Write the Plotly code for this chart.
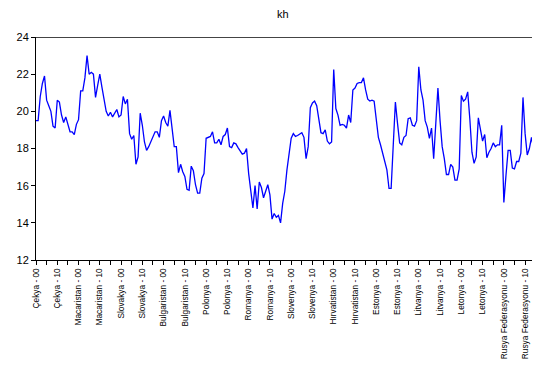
import plotly.graph_objects as go

countries = ["Çekya", "Macaristan", "Slovakya", "Bulgaristan", "Polonya", "Romanya",
             "Slovenya", "Hırvatistan", "Estonya", "Litvanya", "Letonya", "Rusya Federasyonu"]
years = ["%02d" % y for y in range(20)]

kh = [
    # Çekya
    19.5, 19.5, 20.8, 21.5, 21.9, 20.6, 20.3, 20.0, 19.2, 19.1,
    20.6, 20.5, 19.8, 19.4, 19.7, 19.3, 18.9, 18.9, 18.75, 19.3,
    # Macaristan
    19.55, 21.1, 21.1, 21.8, 23.0, 22.0, 22.1, 22.0, 20.75, 21.4,
    22.0, 21.3, 20.6, 20.0, 19.75, 19.95, 19.7, 19.9, 20.1, 19.7,
    # Slovakya
    19.8, 20.8, 20.4, 20.65, 18.8, 18.5, 18.7, 17.15, 17.55, 19.9,
    19.25, 18.35, 17.9, 18.1, 18.4, 18.6, 18.9, 18.9, 18.6, 19.5,
    # Bulgaristan
    19.75, 19.4, 19.2, 20.05, 19.15, 18.1, 18.1, 16.7, 17.15, 16.75,
    16.5, 15.8, 15.75, 17.05, 16.8, 16.05, 15.6, 15.6, 16.4, 16.65,
    # Polonya
    18.55, 18.6, 18.65, 18.9, 18.3, 18.3, 18.5, 18.2, 18.65, 18.75,
    19.1, 18.1, 18.05, 18.3, 18.25, 18.05, 17.85, 17.7, 17.75, 18.0,
    # Romanya
    16.65, 15.75, 14.8, 16.0, 14.75, 16.2, 15.9, 15.35, 15.75, 16.05,
    15.5, 14.2, 14.5, 14.3, 14.4, 14.0, 15.05, 15.7, 16.85, 17.75,
    # Slovenya
    18.55, 18.8, 18.65, 18.7, 18.8, 18.85, 18.6, 17.45, 18.1, 20.2,
    20.45, 20.55, 20.3, 19.5, 18.85, 18.8, 19.0, 18.4, 18.25, 18.35,
    # Hırvatistan
    22.25, 20.15, 19.8, 19.25, 19.3, 19.25, 19.1, 19.8, 19.4, 21.15,
    21.25, 21.5, 21.55, 21.55, 21.8, 21.15, 20.65, 20.55, 20.6, 20.55,
    # Estonya
    19.5, 18.6, 18.2, 17.8, 17.35, 16.85, 15.85, 15.85, 18.2, 20.5,
    19.35, 18.3, 18.2, 18.6, 18.7, 19.6, 19.65, 19.25, 19.2, 19.5,
    # Litvanya
    22.4, 21.15, 20.6, 19.5, 19.15, 18.55, 19.1, 17.45, 19.35, 21.25,
    19.5, 18.1, 17.45, 16.6, 16.6, 17.15, 17.0, 16.3, 16.3, 16.9,
    # Letonya
    20.85, 20.55, 20.65, 21.05, 19.6, 17.8, 17.2, 17.55, 19.65, 19.0,
    18.4, 18.75, 17.5, 17.8, 18.0, 18.3, 18.1, 18.2, 18.2, 19.25,
    # Rusya Federasyonu (visible part)
    15.1, 16.55, 17.9, 17.9, 16.95, 16.9, 17.3, 17.3, 17.75, 20.75,
    18.8, 17.65, 18.0, 18.6, 18.0, 17.75, 18.4, 18.45,
]

labels = ["%s - %s" % (c, y) for c in countries for y in years]
x_labels = labels[:len(kh)]

tickvals = labels[::5]
ticktext = [labels[i] if i % 10 == 0 else "" for i in range(0, len(labels), 5)]

fig = go.Figure()
fig.add_trace(go.Scatter(x=x_labels, y=kh, mode="lines",
                         line=dict(color="#0000FF", width=1.3),
                         showlegend=False, hoverinfo="x+y"))

fig.update_layout(
    width=532, height=376,
    margin=dict(l=28, r=0, t=29, b=124, autoexpand=False),
    paper_bgcolor="white", plot_bgcolor="white",
    font=dict(family="Liberation Sans, Arial, sans-serif", size=11, color="black"),
    annotations=[dict(text="kh", xref="paper", yref="paper", x=0.49, y=1.0,
                      yshift=23, xanchor="center", yanchor="middle",
                      showarrow=False, font=dict(size=11, color="black"))],
    shapes=[dict(type="line", xref="paper", yref="y", x0=0, x1=1, y0=24, y1=24,
                 line=dict(color="#444444", width=2))],
)
fig.update_xaxes(
    type="category", range=[0, 237.0], automargin=False,
    tickmode="array", tickvals=tickvals, ticktext=ticktext,
    tickangle=-90, ticks="outside", ticklen=4, tickcolor="black",
    showline=True, linecolor="black", linewidth=1, showgrid=False, zeroline=False,
    tickfont=dict(family="Liberation Sans, Arial", size=8.3),
)
fig.update_yaxes(
    range=[12, 24], dtick=2, ticks="outside", ticklen=4, tickcolor="black",
    automargin=False,
    showline=True, linecolor="black", linewidth=1, showgrid=False, zeroline=False,
    tickfont=dict(size=11),
)

fig.write_html("out.html")
